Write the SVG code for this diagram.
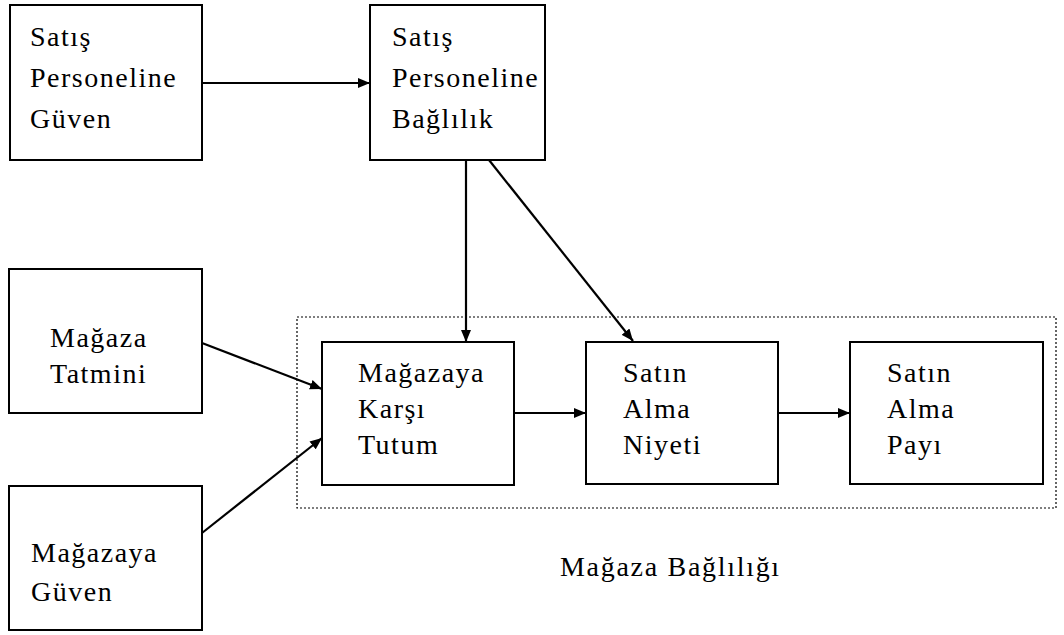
<svg xmlns="http://www.w3.org/2000/svg" width="1064" height="635" viewBox="0 0 1064 635">
<style>
.box{fill:#fff;stroke:#000;stroke-width:2}
.t{font-family:'Liberation Serif','Times New Roman',serif;font-size:28px;letter-spacing:1.5px;fill:#000}
.c{stroke:#000;stroke-width:2.2;fill:none;marker-end:url(#ah)}
</style>
<defs>
<marker id="ah" viewBox="0 0 12 10" refX="12" refY="5" markerWidth="12" markerHeight="10" markerUnits="userSpaceOnUse" orient="auto">
<path d="M0,0 L12,5 L0,10 Z" fill="#000"/>
</marker>
</defs>
<rect x="297" y="317" width="759" height="191" fill="none" stroke="#000" stroke-width="1.2" stroke-dasharray="2,2"/>
<g id="n1"><rect class="box" x="10" y="5" width="192" height="155"/>
<text class="t"><tspan x="30" y="46">Satış</tspan><tspan x="30" y="87">Personeline</tspan><tspan x="30" y="128">Güven</tspan></text></g>
<g id="n2"><rect class="box" x="370" y="5" width="175" height="155"/>
<text class="t"><tspan x="392" y="46">Satış</tspan><tspan x="392" y="87">Personeline</tspan><tspan x="392" y="128">Bağlılık</tspan></text></g>
<g id="n3"><rect class="box" x="9" y="269" width="193" height="144"/>
<text class="t"><tspan x="50" y="347">Mağaza</tspan><tspan x="50" y="383">Tatmini</tspan></text></g>
<g id="n4"><rect class="box" x="9" y="486" width="193" height="144"/>
<text class="t"><tspan x="31" y="562">Mağazaya</tspan><tspan x="31" y="601">Güven</tspan></text></g>
<g id="n5"><rect class="box" x="322" y="342" width="192" height="143"/>
<text class="t"><tspan x="358" y="382">Mağazaya</tspan><tspan x="358" y="418">Karşı</tspan><tspan x="358" y="454">Tutum</tspan></text></g>
<g id="n6"><rect class="box" x="586" y="342" width="192" height="142"/>
<text class="t"><tspan x="623" y="382">Satın</tspan><tspan x="623" y="418">Alma</tspan><tspan x="623" y="454">Niyeti</tspan></text></g>
<g id="n7"><rect class="box" x="850" y="342" width="193" height="142"/>
<text class="t"><tspan x="887" y="382">Satın</tspan><tspan x="887" y="418">Alma</tspan><tspan x="887" y="454">Payı</tspan></text></g>
<g id="label"><text class="t" x="560" y="576" style="letter-spacing:1.7px">Mağaza Bağlılığı</text></g>
<g id="connectors">
<line class="c" x1="202" y1="83" x2="370" y2="83"/>
<line class="c" x1="466" y1="160" x2="466" y2="342"/>
<line class="c" x1="489" y1="160" x2="633" y2="341"/>
<line class="c" x1="202" y1="343" x2="322" y2="389"/>
<line class="c" x1="202" y1="533" x2="322" y2="438"/>
<line class="c" x1="514" y1="413" x2="586" y2="413"/>
<line class="c" x1="778" y1="413" x2="850" y2="413"/>
</g>
</svg>
